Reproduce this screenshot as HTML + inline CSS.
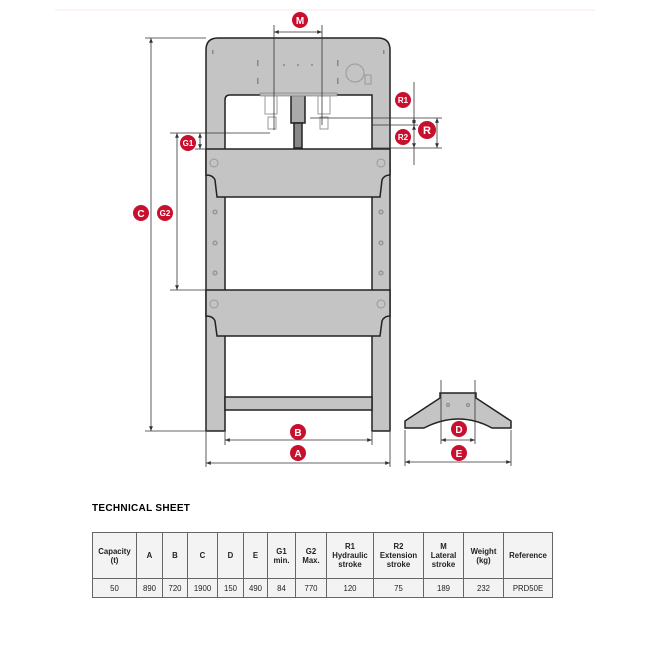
<!DOCTYPE html>
<html><head><meta charset="utf-8"><style>
body{margin:0;background:#fff;width:650px;height:650px;overflow:hidden;font-family:"Liberation Sans",sans-serif}
svg{position:absolute;left:0;top:0}
.t{position:absolute;left:92px;top:503px;font-weight:bold;font-size:10px;letter-spacing:0.3px}
table{position:absolute;left:92px;top:532px;border-collapse:collapse;font-size:7.8px;color:#222}
td{border:1.5px solid #666;text-align:center;background:#f3f3f3;padding:0}
tr.h td{height:45px;font-weight:bold}
tr.r td{height:18px}
</style></head><body>
<svg width="650" height="650" viewBox="0 0 650 650">
<defs><marker id="a" viewBox="0 0 10 10" refX="10" refY="5" markerWidth="6" markerHeight="6" orient="auto-start-reverse"><path d="M0 1 L10 5 L0 9 Z" fill="#333"/></marker></defs>
<line x1="55" y1="10" x2="595" y2="10" stroke="#fbe3e8" stroke-width="1"/>
<g stroke="#222" stroke-width="1.5" fill="#c4c4c4">
<path d="M218 38 H378 Q390 38 390 50 V431 H372 V95 Q372 95 370 95 H230 Q225 95 225 100 V431 H206 V50 Q206 38 218 38 Z"/>
<path d="M206 149 H390 V175 Q384 175 382 180 L380 197 H217 L215 180 Q213 175 206 175 Z"/>
<path d="M206 290 H390 V316 Q384 316 382 321 L380 336 H217 L215 321 Q213 316 206 316 Z"/>
<rect x="225" y="397" width="147" height="13"/>
<rect x="291" y="95" width="14" height="28" fill="#aaa"/>
<rect x="294" y="123" width="8" height="25" fill="#888"/>
<path d="M405 421 L440 398 V393 H476 V398 L511 421 V428 H492 Q459 410 424 428 H405 Z"/>
</g>
<rect x="260" y="93" width="77" height="3" fill="#bbb" stroke="#777" stroke-width="0.6"/>
<g fill="none" stroke="#999" stroke-width="1">
<circle cx="355" cy="73" r="9"/><rect x="365" y="75" width="6" height="9"/>
<rect x="265" y="96" width="12" height="18"/><rect x="318" y="96" width="12" height="18"/>
<rect x="268" y="117" width="8" height="12"/><rect x="320" y="117" width="8" height="12"/>
<circle cx="214" cy="163" r="4"/><circle cx="381" cy="163" r="4"/>
<circle cx="214" cy="304" r="4"/><circle cx="381" cy="304" r="4"/>
</g>
<g fill="#888"><rect x="212" y="50" width="1.5" height="4"/><rect x="383" y="50" width="1.5" height="4"/><rect x="257" y="60" width="1.5" height="6"/><rect x="257" y="78" width="1.5" height="6"/><rect x="337" y="60" width="1.5" height="6"/><rect x="337" y="78" width="1.5" height="6"/><circle cx="284" cy="65" r="1"/><circle cx="298" cy="65" r="1"/><circle cx="312" cy="65" r="1"/></g>
<g fill="#bbb" stroke="#888"><circle cx="215" cy="212" r="2"/><circle cx="215" cy="243" r="2"/><circle cx="215" cy="273" r="2"/><circle cx="381" cy="212" r="2"/><circle cx="381" cy="243" r="2"/><circle cx="381" cy="273" r="2"/><circle cx="448" cy="405" r="1.5"/><circle cx="468" cy="405" r="1.5"/></g>
<g stroke="#333" stroke-width="0.8" fill="none">
<line x1="145" y1="38" x2="206" y2="38"/><line x1="145" y1="431" x2="206" y2="431"/>
<line x1="170" y1="290" x2="206" y2="290"/><line x1="170" y1="133" x2="270" y2="133"/>
<line x1="195" y1="149" x2="206" y2="149"/>
<line x1="274" y1="25" x2="274" y2="130"/><line x1="322" y1="25" x2="322" y2="125"/>
<line x1="310" y1="118" x2="442" y2="118"/><line x1="372" y1="125" x2="418" y2="125"/><line x1="372" y1="148" x2="442" y2="148"/>
<line x1="414" y1="82" x2="414" y2="118"/><line x1="414" y1="148" x2="414" y2="165"/>
<line x1="225" y1="432" x2="225" y2="445"/><line x1="372" y1="432" x2="372" y2="445"/>
<line x1="206" y1="432" x2="206" y2="467"/><line x1="390" y1="432" x2="390" y2="467"/>
<line x1="441" y1="380" x2="441" y2="444"/><line x1="475" y1="380" x2="475" y2="444"/>
<line x1="405" y1="430" x2="405" y2="466"/><line x1="511" y1="430" x2="511" y2="466"/>
</g>
<g stroke="#333" stroke-width="0.8" fill="none" marker-start="url(#a)" marker-end="url(#a)">
<line x1="151" y1="38" x2="151" y2="431"/>
<line x1="177" y1="133" x2="177" y2="290"/>
<line x1="200" y1="133" x2="200" y2="149"/>
<line x1="274" y1="32" x2="322" y2="32"/>
<line x1="414" y1="118" x2="414" y2="125"/><line x1="414" y1="125" x2="414" y2="148"/>
<line x1="437" y1="118" x2="437" y2="148"/>
<line x1="225" y1="440" x2="372" y2="440"/>
<line x1="206" y1="463" x2="390" y2="463"/>
<line x1="441" y1="440" x2="475" y2="440"/>
<line x1="405" y1="462" x2="511" y2="462"/>
</g>
<g fill="#c8102e" font-family="Liberation Sans" font-weight="bold" font-size="10" text-anchor="middle">
<circle cx="141" cy="213" r="8"/><circle cx="165" cy="213" r="8"/><circle cx="188" cy="143" r="8"/><circle cx="300" cy="20" r="8"/>
<circle cx="403" cy="100" r="8"/><circle cx="403" cy="137" r="8"/><circle cx="427" cy="130" r="9"/>
<circle cx="298" cy="432" r="8"/><circle cx="298" cy="453" r="8"/><circle cx="459" cy="429" r="8"/><circle cx="459" cy="453" r="8"/>
<g fill="#fff"><text x="141" y="217">C</text><text x="165" y="216" font-size="8">G2</text><text x="188" y="146" font-size="8">G1</text><text x="300" y="24">M</text>
<text x="403" y="103" font-size="8">R1</text><text x="403" y="140" font-size="8">R2</text><text x="427" y="134" font-size="11">R</text>
<text x="298" y="436">B</text><text x="298" y="457">A</text><text x="459" y="433">D</text><text x="459" y="457">E</text></g>
</g>
</svg>
<div class="t">TECHNICAL SHEET</div>
<table>
<tr class="h"><td style="width:43px">Capacity<br>(t)</td><td style="width:25px">A</td><td style="width:24px">B</td><td style="width:29px">C</td><td style="width:25px">D</td><td style="width:23px">E</td><td style="width:27px">G1<br>min.</td><td style="width:30px">G2<br>Max.</td><td style="width:46px">R1<br>Hydraulic<br>stroke</td><td style="width:49px">R2<br>Extension<br>stroke</td><td style="width:39px">M<br>Lateral<br>stroke</td><td style="width:39px">Weight<br>(kg)</td><td style="width:48px">Reference</td></tr>
<tr class="r"><td>50</td><td>890</td><td>720</td><td>1900</td><td>150</td><td>490</td><td>84</td><td>770</td><td>120</td><td>75</td><td>189</td><td>232</td><td>PRD50E</td></tr>
</table>
</body></html>
